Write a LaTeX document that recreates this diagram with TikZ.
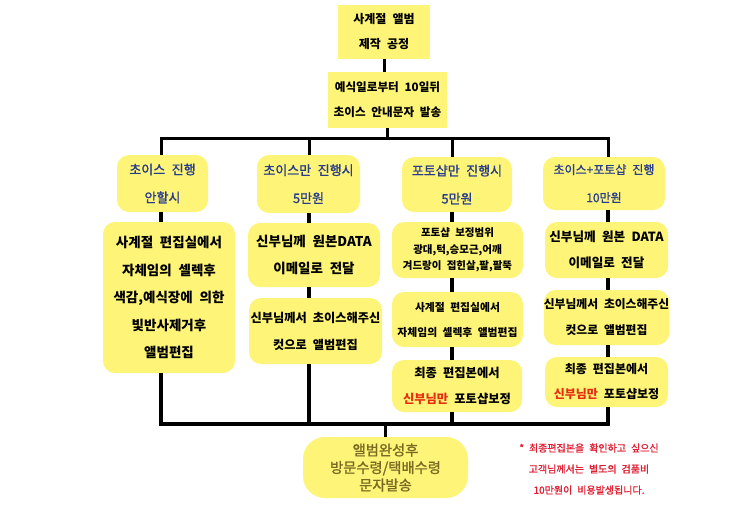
\documentclass[tikz,border=0pt]{standalone}
\usepackage{fontspec}
\setmainfont{Noto Sans CJK KR}
\newfontfamily\krmid[FakeBold=1.2]{Noto Sans CJK KR}
\definecolor{boxyellow}{RGB}{254,244,120}
\definecolor{hdrblue}{RGB}{40,60,140}
\definecolor{hotred}{RGB}{230,45,15}
\definecolor{notered}{RGB}{225,30,50}
\definecolor{olive}{RGB}{120,105,35}
\newcommand\wsp{\spaceskip=0.5em\relax}
\tikzset{
  sqbox/.style={fill=boxyellow, draw=none, align=center, inner sep=0pt},
  rbox/.style={sqbox, rounded corners=12pt},
  topbox/.style={sqbox, font=\bfseries\fontsize{12}{25}\selectfont\wsp},
  hdr/.style={rbox, text=hdrblue, font=\krmid\fontsize{13}{28}\selectfont\wsp},
  body/.style={rbox, font=\bfseries\fontsize{13.5}{27.5}\selectfont\wsp},
  conn/.style={line width=3.5pt, black},
}
\begin{document}
\begin{tikzpicture}[x=1pt,y=-1pt]
\useasboundingbox[fill=white] (0,0) rectangle (740,523);
% column axes and bars
\coordinate (c1) at (161,0);
\coordinate (c2) at (309,0);
\coordinate (c3) at (452,0);
\coordinate (c4) at (608,0);
\coordinate (tbar) at (0,138);
\coordinate (bbar) at (0,424);
% top
\node[topbox, minimum width=92pt, minimum height=54pt] (top) at (384,32) {사계절 앨범\\제작 공정};
\node[topbox, minimum width=119pt, minimum height=56pt, font=\bfseries\fontsize{11.6}{25}\selectfont\wsp] (second) at (387.5,100) {예식일로부터 10일뒤\\초이스 안내문자 발송};
% headers
\node[hdr, minimum width=91pt, minimum height=57pt] (h1) at (162.5,183.5) {초이스 진행\\안할시};
\node[hdr, minimum width=103pt, minimum height=58pt] (h2) at (308.5,184) {초이스만 진행시\\5만원};
\node[hdr, minimum width=110pt, minimum height=55pt] (h3) at (457,184.5) {포토샵만 진행시\\5만원};
\node[hdr, minimum width=122pt, minimum height=53pt, font=\krmid\fontsize{12}{28}\selectfont\wsp] (h4) at (604,183.5) {초이스+포토샵 진행\\10만원};
% column 1
\node[body, minimum width=132pt, minimum height=151pt] (b1) at (169,297.5) {사계절 편집실에서\\자체임의 셀렉후\\색감,예식장에 의한\\빛반사제거후\\앨범편집};
% column 2
\node[body, minimum width=132pt, minimum height=64pt] (b2a) at (314,255) {신부님께 원본DATA\\이메일로 전달};
\node[body, minimum width=133pt, minimum height=66pt, font=\bfseries\fontsize{12.2}{27}\selectfont\wsp] (b2b) at (315.5,331) {신부님께서 초이스해주신\\컷으로 앨범편집};
% column 3
\node[body, minimum width=131pt, minimum height=56pt, font=\bfseries\fontsize{10.5}{16.5}\selectfont\wsp] (b3a) at (457.5,250) {포토샵 보정범위\\광대,턱,승모근,어깨\\겨드랑이 접힌살,팔,팔뚝};
\node[body, minimum width=131pt, minimum height=55pt, font=\bfseries\fontsize{10.8}{25}\selectfont\wsp] (b3b) at (457.5,319.5) {사계절 편집실에서\\자체임의 셀렉후 앨범편집};
\node[body, minimum width=130pt, minimum height=52pt, font=\bfseries\fontsize{12.3}{26}\selectfont\wsp] (b3c) at (457,386) {최종 편집본에서\\{\color{hotred}신부님만} 포토샵보정};
% column 4
\node[body, minimum width=123pt, minimum height=56pt, font=\bfseries\fontsize{12.6}{26}\selectfont\wsp] (b4a) at (606.5,250) {신부님께 원본 DATA\\이메일로 전달};
\node[body, minimum width=123pt, minimum height=55pt, font=\bfseries\fontsize{11.8}{26}\selectfont\wsp] (b4b) at (606.5,317.5) {신부님께서 초이스해주신\\컷으로 앨범편집};
\node[body, minimum width=123pt, minimum height=50pt, font=\bfseries\fontsize{12}{25}\selectfont\wsp] (b4c) at (606.5,382) {최종 편집본에서\\{\color{hotred}신부님만} 포토샵보정};
% bottom
\node[rbox, rounded corners=22pt, minimum width=165pt, minimum height=61pt, text=olive, font=\krmid\fontsize{14.3}{17.5}\selectfont] (bottom) at (385.5,467.5) {앨범완성후\\방문수령/택배수령\\문자발송};
\node[align=center, text=notered, inner sep=0pt, font=\krmid\fontsize{10}{21}\selectfont\wsp] (note) at (589,469) {* 최종편집본을 확인하고 싶으신\\고객님께서는 별도의 검품비\\10만원이 비용발생됩니다.};
% connectors
\draw[conn, line width=3pt] (top.south) -- (top.south |- second.north);
\draw[conn, line width=3pt] (second.south) -- (second.south |- tbar);
\draw[conn, line width=3pt] (c1 |- h1.north) -- (c1 |- tbar) -- (c4 |- tbar) -- (c4 |- h4.north);
\draw[conn, line width=3pt] (c2 |- tbar) -- (c2 |- h2.north);
\draw[conn, line width=3pt] (c3 |- tbar) -- (c3 |- h3.north);
\draw[conn] (c1 |- h1.south) -- (c1 |- b1.north);
\draw[conn] (c2 |- h2.south) -- (c2 |- b2a.north);
\draw[conn] (c2 |- b2a.south) -- (c2 |- b2b.north);
\draw[conn] (c3 |- h3.south) -- (c3 |- b3a.north);
\draw[conn] (c3 |- b3a.south) -- (c3 |- b3b.north);
\draw[conn] (c3 |- b3b.south) -- (c3 |- b3c.north);
\draw[conn] (c4 |- h4.south) -- (c4 |- b4a.north);
\draw[conn] (c4 |- b4a.south) -- (c4 |- b4b.north);
\draw[conn] (c4 |- b4b.south) -- (c4 |- b4c.north);
\draw[conn] (c1 |- b1.south) -- (c1 |- bbar) -- (c4 |- bbar) -- (c4 |- b4c.south);
\draw[conn] (c2 |- b2b.south) -- (c2 |- bbar);
\draw[conn] (c3 |- b3c.south) -- (c3 |- bbar);
\draw[conn] (bottom.north) -- (bottom.north |- bbar);
\end{tikzpicture}
\end{document}
